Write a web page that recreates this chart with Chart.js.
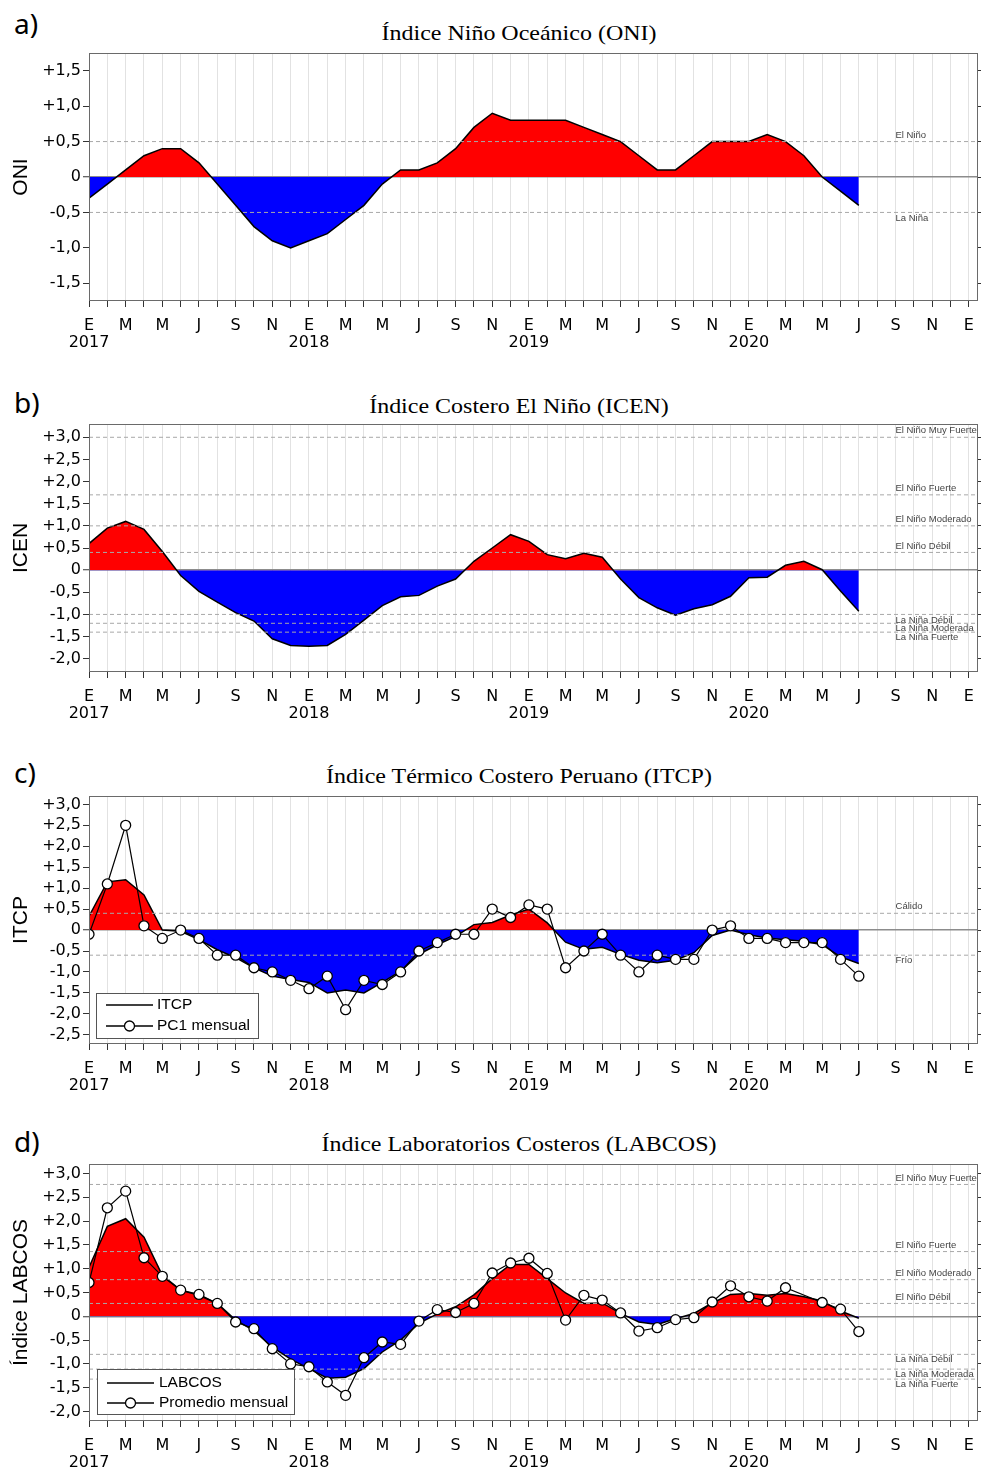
<!DOCTYPE html>
<html><head><meta charset="utf-8">
<script src="https://cdn.jsdelivr.net/npm/chart.js@4.4.1/dist/chart.umd.min.js"></script>
<style>
body{margin:0;background:#fff;}
#wrap{position:relative;width:981px;height:1473px;overflow:hidden;background:#fff;}
canvas{position:absolute;left:0;}
.lbl{position:absolute;left:14px;font-family:'Noto Sans',sans-serif;font-size:28px;line-height:1;color:#000;}
.ttl{position:absolute;left:519px;font-family:'Liberation Serif','Times New Roman',serif;font-size:22px;line-height:1;white-space:nowrap;color:#000;transform:translateX(-50%) scaleX(1.09);}
</style></head>
<body><div id="wrap">
<div class="lbl" style="top:9px">a)</div>
<div class="ttl" style="top:22px">Índice Niño Oceánico (ONI)</div>
<div class="lbl" style="top:388px">b)</div>
<div class="ttl" style="top:395px">Índice Costero El Niño (ICEN)</div>
<div class="lbl" style="top:758px">c)</div>
<div class="ttl" style="top:765px">Índice Térmico Costero Peruano (ITCP)</div>
<div class="lbl" style="top:1127px">d)</div>
<div class="ttl" style="top:1133px">Índice Laboratorios Costeros (LABCOS)</div>
<canvas id="ca" width="981" height="360" style="top:0px"></canvas>
<canvas id="cb" width="981" height="360" style="top:370px"></canvas>
<canvas id="cc" width="981" height="370" style="top:740px"></canvas>
<canvas id="cd" width="981" height="363" style="top:1110px"></canvas>
</div>
<script>
// ---- categories / tick labels ----
const monthLetters = ['E','M','M','J','S','N'];
const yearLabels = ['2017','2018','2019','2020'];
const monthCount = 49; // Jan 2017 .. Jan 2021

// ---- series (monthly, Jan 2017 .. Jul 2020) ----
const oni = [-0.3,-0.1,0.1,0.3,0.4,0.4,0.2,-0.1,-0.4,-0.7,-0.9,-1.0,
             -0.9,-0.8,-0.6,-0.4,-0.1,0.1,0.1,0.2,0.4,0.7,0.9,0.8,
             0.8,0.8,0.8,0.7,0.6,0.5,0.3,0.1,0.1,0.3,0.5,0.5,
             0.5,0.6,0.5,0.3,0.0,-0.2,-0.4];
const icen = [0.6,0.95,1.1,0.92,0.42,-0.12,-0.48,-0.72,-0.96,-1.15,-1.55,-1.7,
              -1.72,-1.7,-1.45,-1.13,-0.8,-0.6,-0.57,-0.36,-0.2,0.2,0.5,0.8,
              0.65,0.35,0.26,0.38,0.29,-0.2,-0.62,-0.85,-1.02,-0.87,-0.78,-0.59,
              -0.17,-0.16,0.11,0.2,0.01,-0.47,-0.93];
const itcp = [0.33,1.15,1.2,0.84,0.0,-0.03,-0.23,-0.47,-0.66,-0.9,-1.1,-1.18,
              -1.25,-1.5,-1.43,-1.5,-1.25,-0.98,-0.58,-0.35,-0.15,0.13,0.18,0.36,
              0.5,0.17,-0.29,-0.46,-0.41,-0.58,-0.72,-0.78,-0.72,-0.54,-0.13,0.0,
              -0.11,-0.19,-0.23,-0.27,-0.35,-0.64,-0.8];
const pc1 = [-0.1,1.1,2.5,0.1,-0.2,0.0,-0.2,-0.6,-0.6,-0.9,-1.0,-1.2,
             -1.4,-1.1,-1.9,-1.2,-1.3,-1.0,-0.5,-0.3,-0.1,-0.1,0.5,0.3,
             0.6,0.5,-0.9,-0.5,-0.1,-0.6,-1.0,-0.6,-0.7,-0.7,0.0,0.1,
             -0.2,-0.2,-0.3,-0.3,-0.3,-0.7,-1.1];
const labcos = [1.03,1.89,2.05,1.66,0.86,0.55,0.44,0.27,-0.08,-0.3,-0.65,-0.9,
                -1.1,-1.3,-1.28,-1.1,-0.75,-0.5,-0.15,0.05,0.2,0.45,0.79,1.09,
                1.09,0.79,0.49,0.27,0.28,0.06,-0.12,-0.17,-0.05,0.06,0.28,0.46,
                0.48,0.44,0.48,0.41,0.32,0.11,-0.04];
const promedio = [0.71,2.28,2.63,1.23,0.84,0.55,0.46,0.27,-0.12,-0.26,-0.68,-1.0,
                  -1.06,-1.38,-1.66,-0.87,-0.54,-0.59,-0.1,0.14,0.08,0.27,0.91,1.12,
                  1.22,0.9,-0.08,0.44,0.34,0.07,-0.31,-0.24,-0.07,-0.03,0.3,0.64,
                  0.41,0.32,0.6,null,0.29,0.15,-0.32];

// ---- y tick values ----
const oniTicks = [-1.5,-1,-0.5,0,0.5,1,1.5];
const icenTicks = [-2,-1.5,-1,-0.5,0,0.5,1,1.5,2,2.5,3];
const itcpTicks = [-2.5,-2,-1.5,-1,-0.5,0,0.5,1,1.5,2,2.5,3];
const labcosTicks = [-2,-1.5,-1,-0.5,0,0.5,1,1.5,2,2.5,3];

// ---- category thresholds ----
const oniLevels = [0.5,-0.5];
const oniLevelNames = ['El Niño','La Niña'];
const icenLevels = [3.0,1.7,1.0,0.4,-1.0,-1.2,-1.4];
const ninoNames = ['El Niño Muy Fuerte','El Niño Fuerte','El Niño Moderado','El Niño Débil','La Niña Débil','La Niña Moderada','La Niña Fuerte'];
const itcpLevels = [0.4,-0.6];
const itcpLevelNames = ['Cálido','Frío'];
const labcosLevels = [2.77,1.36,0.77,0.27,-0.8,-1.11,-1.32];

function fmt(v){
  if (Math.abs(v) < 1e-9) return '0';
  return (v > 0 ? '+' : '-') + Math.abs(v).toFixed(1).replace('.', ',');
}
function xLabel(v){
  if (!Number.isInteger(v)) return '';
  const m = v % 12;
  if (m % 2) return '';
  const letter = monthLetters[m / 2];
  const yr = yearLabels[v / 12];
  return (m === 0 && yr) ? [letter, yr] : letter;
}

const decor = {
  id: 'decor',
  afterDatasetsDraw(chart, args, o) {
    const {ctx, chartArea: a, scales: {x, y}} = chart;
    ctx.save();
    ctx.font = '9.5px "Liberation Sans", Arial, sans-serif';
    ctx.fillStyle = '#444';
    ctx.textAlign = 'left';
    ctx.textBaseline = 'middle';
    (o.levels || []).forEach((v, i) => {
      const py = y.getPixelForValue(v);
      ctx.fillText(o.names[i], x.getPixelForValue(o.labelAt), v > 0 ? py - 6.5 : py + 5.5);
    });
    ctx.strokeStyle = '#6a6a6a';
    ctx.lineWidth = 1;
    ctx.strokeRect(a.left + 0.5, a.top + 0.5, a.right - a.left - 1, a.bottom - a.top - 1);
    const L = o.legend;
    if (L) {
      const bx = a.left + L.dx, by = a.bottom - L.dy - L.h;
      ctx.fillStyle = '#fff';
      ctx.fillRect(bx, by, L.w, L.h);
      ctx.strokeStyle = '#555';
      ctx.strokeRect(bx + 0.5, by + 0.5, L.w, L.h);
      ctx.font = L.font;
      ctx.textBaseline = 'middle';
      L.rows.forEach(r => {
        const ds = chart.data.datasets[r.ds];
        const ry = by + r.cy;
        ctx.strokeStyle = '#000';
        ctx.lineWidth = 1.3;
        ctx.beginPath(); ctx.moveTo(bx + L.l0, ry); ctx.lineTo(bx + L.l1, ry); ctx.stroke();
        if (r.marker) {
          ctx.beginPath(); ctx.arc(bx + (L.l0 + L.l1) / 2, ry, 5, 0, Math.PI * 2);
          ctx.fillStyle = '#fff'; ctx.fill(); ctx.stroke();
        }
        ctx.fillStyle = '#000';
        ctx.fillText(ds.label, bx + L.tx, ry);
      });
    }
    ctx.restore();
  }
};

const monthIdx = Array.from({length: monthCount}, (_, i) => i);

function panel(id, o) {
  const datasets = [{
    label: o.areaLabel,
    data: o.area.map((v, i) => ({x: i, y: v})),
    borderColor: '#000', borderWidth: 1.5, pointRadius: 0,
    fill: {target: {value: 0}, above: '#ff0000', below: '#0000ff'},
    order: 3
  }];
  if (o.points) datasets.push({
    label: o.pointsLabel,
    data: o.points.map((v, i) => ({x: i, y: v})),
    borderColor: '#000', borderWidth: 1.2, pointRadius: 5,
    pointBackgroundColor: '#fff', pointBorderColor: '#000', pointBorderWidth: 1.3,
    fill: false, spanGaps: true, order: 0
  });
  o.levels.forEach(v => datasets.push({
    label: '', data: [{x: 0, y: v}, {x: monthCount - 0.5, y: v}],
    borderColor: '#a8a8a8', borderWidth: 1, borderDash: [4, 3], pointRadius: 0, fill: false, order: 1
  }));
  const ticksCfg = s => { s.ticks = o.ticks.map(v => ({value: v})); };
  return new Chart(document.getElementById(id), {
    type: 'line',
    data: {datasets},
    plugins: [decor],
    options: {
      responsive: false, maintainAspectRatio: false, animation: false, events: [],
      layout: {autoPadding: false, padding: {top: o.padTop, left: 0, right: 0, bottom: 0}},
      plugins: {
        legend: {display: false}, tooltip: {enabled: false},
        decor: {levels: o.levels, names: o.names, labelAt: 44, legend: o.legend}
      },
      scales: {
        x: {
          type: 'linear', min: 0, max: monthCount - 0.5,
          afterBuildTicks(s) { s.ticks = monthIdx.map(v => ({value: v})); },
          afterFit(s) { s.height = o.xh; s.paddingLeft = 0; s.paddingRight = 0; },
          grid: {color: '#e2e2e2', lineWidth: 1, tickColor: '#333', tickLength: 6, tickWidth: 1},
          border: {display: false},
          ticks: {autoSkip: false, maxRotation: 0, minRotation: 0, padding: 10, color: '#000',
                  font: {family: 'DejaVu Sans', size: 16, lineHeight: 1.07}, callback: v => xLabel(v)}
        },
        y: {
          min: o.min, max: o.max,
          afterBuildTicks: ticksCfg,
          afterFit(s) { s.width = 89; },
          grid: {color: c => (c.tick && c.tick.value === 0) ? '#8c8c8c' : 'rgba(0,0,0,0)',
                 lineWidth: c => (c.tick && c.tick.value === 0) ? 1.5 : 1,
                 tickColor: '#333', tickLength: 6, tickWidth: 1},
          border: {display: false},
          ticks: {padding: 2, color: '#000', font: {family: 'DejaVu Sans', size: 16}, callback: v => fmt(v)},
          title: {display: true, text: o.yTitle, color: '#000',
                  font: {family: 'Liberation Sans', size: 21}, padding: {top: 9, bottom: 0}}
        },
        y2: {
          position: 'right', min: o.min, max: o.max,
          afterBuildTicks: ticksCfg,
          afterFit(s) { s.width = 3; },
          grid: {drawOnChartArea: false, tickColor: '#333', tickLength: 5, tickWidth: 1},
          border: {display: false},
          ticks: {display: false}
        }
      }
    }
  });
}

panel('ca', {area: oni, areaLabel: 'ONI', levels: oniLevels, names: oniLevelNames,
  ticks: oniTicks, min: -1.75, max: 1.75, yTitle: 'ONI', padTop: 53, xh: 59});
panel('cb', {area: icen, areaLabel: 'ICEN', levels: icenLevels, names: ninoNames,
  ticks: icenTicks, min: -2.3, max: 3.3, yTitle: 'ICEN', padTop: 54, xh: 58});
panel('cc', {area: itcp, areaLabel: 'ITCP', points: pc1, pointsLabel: 'PC1 mensual',
  levels: itcpLevels, names: itcpLevelNames, ticks: itcpTicks, min: -2.72, max: 3.2,
  yTitle: 'ITCP', padTop: 56, xh: 66,
  legend: {dx: 7, dy: 6, w: 162, h: 45, l0: 10, l1: 57, tx: 61, font: '15.5px "Liberation Sans", Arial, sans-serif',
           rows: [{ds: 0, cy: 12, marker: false}, {ds: 1, cy: 33, marker: true}]}});
panel('cd', {area: labcos, areaLabel: 'LABCOS', points: promedio, pointsLabel: 'Promedio mensual',
  levels: labcosLevels, names: ninoNames, ticks: labcosTicks, min: -2.2, max: 3.2,
  yTitle: 'Índice LABCOS', padTop: 54, xh: 52,
  legend: {dx: 8, dy: 7, w: 197, h: 45, l0: 10, l1: 57, tx: 62, font: '15.5px "Liberation Sans", Arial, sans-serif',
           rows: [{ds: 0, cy: 14, marker: false}, {ds: 1, cy: 34, marker: true}]}});
</script>
</body></html>
